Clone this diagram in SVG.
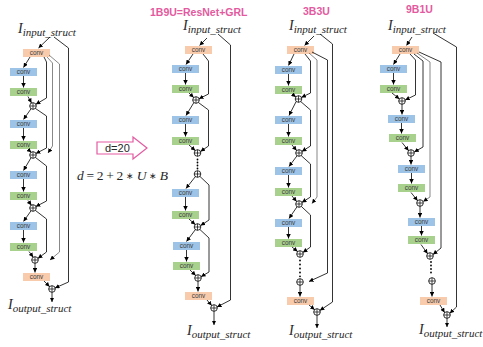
<svg xmlns="http://www.w3.org/2000/svg" width="483" height="347" viewBox="0 0 483 347">
  <style>
    .box text { font-family: "Liberation Sans", Arial, sans-serif; font-size: 6.4px; fill: #3a3a3a; text-anchor: middle; }
    .peach { fill: #F8CBAD; }
    .blue { fill: #9DC3E6; }
    .green { fill: #A9D18E; }
    .wire { fill: none; stroke: #000; stroke-width: 0.8; marker-end: url(#ah); }
    .wire.thin { stroke: #555; stroke-width: 0.7; }
    .dot { fill: #000; }
    .var { font-family: "Liberation Serif", "Times New Roman", serif; font-style: italic; fill: #262626; }
    .var .main { font-size: 14px; }
    .var .sub { font-size: 11px; }
    .title { font-family: "Liberation Sans", Arial, sans-serif; font-weight: bold; fill: #E35AA0; }
    .op { font-size: 9px; }
  </style>
  <defs>
    <marker id="ah" viewBox="0 0 10 10" refX="10" refY="5" markerWidth="4.5" markerHeight="4.5" markerUnits="userSpaceOnUse" orient="auto">
      <path d="M0,0 L10,5 L0,10 z" fill="#000"/>
    </marker>
    <!-- element-wise sum: circle with a cross -->
    <g id="sum-shape">
      <circle r="3.3" fill="#fff" stroke="#000" stroke-width="0.8"/>
      <path d="M-3.3,0H3.3M0,-3.3V3.3" fill="none" stroke="#000" stroke-width="0.7"/>
    </g>
  </defs>

  <!-- ===== generic structure (left) ===== -->
  <g id="c1-in" class="var"><text x="18" y="33"><tspan class="main">I</tspan><tspan class="sub" dy="3">input_struct</tspan></text></g>
  <g id="c1-conv0" class="box"><rect class="peach" x="23" y="49" width="27" height="8"/><text x="36.5" y="55.3">conv</text></g>
  <g id="c1-b1" class="box"><rect class="blue" x="10" y="68" width="27" height="8"/><text x="23.5" y="74.3">conv</text></g>
  <g id="c1-g1" class="box"><rect class="green" x="10" y="88" width="27" height="8"/><text x="23.5" y="94.3">conv</text></g>
  <g id="c1-s1" class="sum"><use href="#sum-shape" x="33" y="106"/></g>
  <g id="c1-b2" class="box"><rect class="blue" x="10" y="120" width="27" height="8"/><text x="23.5" y="126.3">conv</text></g>
  <g id="c1-g2" class="box"><rect class="green" x="10" y="141" width="27" height="8"/><text x="23.5" y="147.3">conv</text></g>
  <g id="c1-s2" class="sum"><use href="#sum-shape" x="33" y="155"/></g>
  <g id="c1-b3" class="box"><rect class="blue" x="10" y="171" width="27" height="8"/><text x="23.5" y="177.3">conv</text></g>
  <g id="c1-g3" class="box"><rect class="green" x="10" y="192" width="27" height="8"/><text x="23.5" y="198.3">conv</text></g>
  <g id="c1-s3" class="sum"><use href="#sum-shape" x="33" y="208"/></g>
  <g id="c1-b4" class="box"><rect class="blue" x="10" y="222" width="27" height="8"/><text x="23.5" y="228.3">conv</text></g>
  <g id="c1-g4" class="box"><rect class="green" x="10" y="243" width="27" height="8"/><text x="23.5" y="249.3">conv</text></g>
  <g id="c1-s4" class="sum"><use href="#sum-shape" x="35" y="260"/></g>
  <g id="c1-convL" class="box"><rect class="peach" x="23" y="273" width="27" height="8"/><text x="36.5" y="279.3">conv</text></g>
  <g id="c1-sf" class="sum"><use href="#sum-shape" x="52" y="289"/></g>
  <g id="c1-out" class="var"><text x="8" y="309"><tspan class="main">I</tspan><tspan class="sub" dy="3">output_struct</tspan></text></g>

  <!-- depth note -->
  <g id="depth-arrow">
    <polygon points="97,142 133,142 133,137 147,148 133,159 133,154 97,154" fill="#fff" stroke="#E35AA0" stroke-width="1.2" stroke-linejoin="miter"/>
    <text x="105" y="152" font-family="Liberation Sans, Arial, sans-serif" font-size="11" fill="#262626">d=20</text>
  </g>
  <g id="depth-formula">
    <text x="77" y="180" font-family="Liberation Serif, 'Times New Roman', serif" font-size="13.5" fill="#262626" textLength="91" lengthAdjust="spacing"><tspan font-style="italic">d</tspan> = 2 + 2 <tspan class="op" dy="-1">∗</tspan> <tspan font-style="italic" dy="1">U</tspan> <tspan class="op" dy="-1">∗</tspan> <tspan font-style="italic" dy="1">B</tspan></text>
  </g>

  <!-- ===== 1B9U ===== -->
  <g id="c2-title"><text class="title" x="150" y="16" font-size="10.5">1B9U=ResNet+GRL</text></g>
  <g id="c2-in" class="var"><text x="183" y="30"><tspan class="main">I</tspan><tspan class="sub" dy="3">input_struct</tspan></text></g>
  <g id="c2-conv0" class="box"><rect class="peach" x="185" y="46" width="27" height="8"/><text x="198.5" y="52.3">conv</text></g>
  <g id="c2-b1" class="box"><rect class="blue" x="172" y="65" width="27" height="8"/><text x="185.5" y="71.3">conv</text></g>
  <g id="c2-g1" class="box"><rect class="green" x="172" y="85" width="27" height="8"/><text x="185.5" y="91.3">conv</text></g>
  <g id="c2-s1" class="sum"><use href="#sum-shape" x="196" y="100"/></g>
  <g id="c2-b2" class="box"><rect class="blue" x="172" y="116" width="27" height="8"/><text x="185.5" y="122.3">conv</text></g>
  <g id="c2-g2" class="box"><rect class="green" x="172" y="137" width="27" height="8"/><text x="185.5" y="143.3">conv</text></g>
  <g id="c2-s2" class="sum"><use href="#sum-shape" x="197.5" y="153"/></g>
  <g id="c2-gap"><circle class="dot" cx="197.5" cy="159.5" r="0.9"/><circle class="dot" cx="197.5" cy="162.5" r="0.9"/><circle class="dot" cx="197.5" cy="165.5" r="0.9"/><circle class="dot" cx="197.5" cy="168.5" r="0.9"/></g>
  <g id="c2-s7" class="sum"><use href="#sum-shape" x="197.5" y="174"/></g>
  <g id="c2-b8" class="box"><rect class="blue" x="172" y="189" width="27" height="8"/><text x="185.5" y="195.3">conv</text></g>
  <g id="c2-g8" class="box"><rect class="green" x="172" y="211" width="27" height="8"/><text x="185.5" y="217.3">conv</text></g>
  <g id="c2-s8" class="sum"><use href="#sum-shape" x="197.5" y="227"/></g>
  <g id="c2-b9" class="box"><rect class="blue" x="173" y="242" width="27" height="8"/><text x="186.5" y="248.3">conv</text></g>
  <g id="c2-g9" class="box"><rect class="green" x="173" y="262" width="27" height="8"/><text x="186.5" y="268.3">conv</text></g>
  <g id="c2-s9" class="sum"><use href="#sum-shape" x="198" y="278"/></g>
  <g id="c2-convL" class="box"><rect class="peach" x="185" y="292" width="27" height="8"/><text x="198.5" y="298.3">conv</text></g>
  <g id="c2-sf" class="sum"><use href="#sum-shape" x="214" y="308"/></g>
  <g id="c2-out" class="var"><text x="187" y="335"><tspan class="main">I</tspan><tspan class="sub" dy="3">output_struct</tspan></text></g>

  <!-- ===== 3B3U ===== -->
  <g id="c3-title"><text class="title" x="303" y="15" font-size="10.5">3B3U</text></g>
  <g id="c3-in" class="var"><text x="289" y="30"><tspan class="main">I</tspan><tspan class="sub" dy="3">input_struct</tspan></text></g>
  <g id="c3-conv0" class="box"><rect class="peach" x="287" y="46" width="27" height="8"/><text x="300.5" y="52.3">conv</text></g>
  <g id="c3-b1" class="box"><rect class="blue" x="275" y="66" width="27" height="8"/><text x="288.5" y="72.3">conv</text></g>
  <g id="c3-g1" class="box"><rect class="green" x="275" y="86" width="27" height="8"/><text x="288.5" y="92.3">conv</text></g>
  <g id="c3-s1" class="sum"><use href="#sum-shape" x="298.5" y="99"/></g>
  <g id="c3-b2" class="box"><rect class="blue" x="275" y="116" width="27" height="8"/><text x="288.5" y="122.3">conv</text></g>
  <g id="c3-g2" class="box"><rect class="green" x="275" y="137" width="27" height="8"/><text x="288.5" y="143.3">conv</text></g>
  <g id="c3-s2" class="sum"><use href="#sum-shape" x="299" y="153"/></g>
  <g id="c3-b3" class="box"><rect class="blue" x="275" y="167" width="27" height="8"/><text x="288.5" y="173.3">conv</text></g>
  <g id="c3-g3" class="box"><rect class="green" x="275" y="188" width="27" height="8"/><text x="288.5" y="194.3">conv</text></g>
  <g id="c3-s3" class="sum"><use href="#sum-shape" x="299" y="204"/></g>
  <g id="c3-b4" class="box"><rect class="blue" x="275" y="219" width="27" height="8"/><text x="288.5" y="225.3">conv</text></g>
  <g id="c3-g4" class="box"><rect class="green" x="275" y="239" width="27" height="8"/><text x="288.5" y="245.3">conv</text></g>
  <g id="c3-s4" class="sum"><use href="#sum-shape" x="300" y="254"/></g>
  <g id="c3-gap"><circle class="dot" cx="300" cy="260.5" r="0.9"/><circle class="dot" cx="300" cy="264.5" r="0.9"/><circle class="dot" cx="300" cy="268.5" r="0.9"/><circle class="dot" cx="300" cy="272.5" r="0.9"/><circle class="dot" cx="300" cy="276.3" r="0.9"/></g>
  <g id="c3-s9" class="sum"><use href="#sum-shape" x="300" y="282"/></g>
  <g id="c3-convL" class="box"><rect class="peach" x="287" y="297" width="27" height="8"/><text x="300.5" y="303.3">conv</text></g>
  <g id="c3-sf" class="sum"><use href="#sum-shape" x="317" y="312"/></g>
  <g id="c3-out" class="var"><text x="289" y="335"><tspan class="main">I</tspan><tspan class="sub" dy="3">output_struct</tspan></text></g>

  <!-- ===== 9B1U ===== -->
  <g id="c4-title"><text class="title" x="406" y="13" font-size="10.5">9B1U</text></g>
  <g id="c4-in" class="var"><text x="388" y="30"><tspan class="main">I</tspan><tspan class="sub" dy="3">input_struct</tspan></text></g>
  <g id="c4-conv0" class="box"><rect class="peach" x="392" y="46" width="27" height="8"/><text x="405.5" y="52.3">conv</text></g>
  <g id="c4-b1" class="box"><rect class="blue" x="380" y="65" width="27" height="8"/><text x="393.5" y="71.3">conv</text></g>
  <g id="c4-g1" class="box"><rect class="green" x="380" y="85" width="27" height="8"/><text x="393.5" y="91.3">conv</text></g>
  <g id="c4-s1" class="sum"><use href="#sum-shape" x="402" y="101"/></g>
  <g id="c4-b2" class="box"><rect class="blue" x="388" y="115" width="27" height="8"/><text x="401.5" y="121.3">conv</text></g>
  <g id="c4-g2" class="box"><rect class="green" x="389" y="134" width="27" height="8"/><text x="402.5" y="140.3">conv</text></g>
  <g id="c4-s2" class="sum"><use href="#sum-shape" x="411" y="153"/></g>
  <g id="c4-b3" class="box"><rect class="blue" x="398" y="165" width="27" height="8"/><text x="411.5" y="171.3">conv</text></g>
  <g id="c4-g3" class="box"><rect class="green" x="398" y="184" width="27" height="8"/><text x="411.5" y="190.3">conv</text></g>
  <g id="c4-s3" class="sum"><use href="#sum-shape" x="420" y="203"/></g>
  <g id="c4-b4" class="box"><rect class="blue" x="408" y="218" width="27" height="8"/><text x="421.5" y="224.3">conv</text></g>
  <g id="c4-g4" class="box"><rect class="green" x="408" y="236" width="27" height="8"/><text x="421.5" y="242.3">conv</text></g>
  <g id="c4-s4" class="sum"><use href="#sum-shape" x="430" y="256"/></g>
  <g id="c4-gap"><circle class="dot" cx="431" cy="262" r="0.9"/><circle class="dot" cx="431" cy="265.5" r="0.9"/><circle class="dot" cx="431" cy="269" r="0.9"/><circle class="dot" cx="431" cy="272.5" r="0.9"/></g>
  <g id="c4-s9" class="sum"><use href="#sum-shape" x="432" y="281"/></g>
  <g id="c4-convL" class="box"><rect class="peach" x="420" y="297" width="27" height="8"/><text x="433.5" y="303.3">conv</text></g>
  <g id="c4-sf" class="sum"><use href="#sum-shape" x="447" y="315"/></g>
  <g id="c4-out" class="var"><text x="419" y="334"><tspan class="main">I</tspan><tspan class="sub" dy="3">output_struct</tspan></text></g>

  <!-- ===== connectors ===== -->
  <g id="connectors">
    <!-- generic -->
    <path class="wire" d="M50,37 L38.5,48"/>
    <path class="wire" d="M54,37 L68.5,48 V282 L55,288"/>
    <path class="wire" d="M30,57 L23.5,67.5"/>
    <path class="wire" d="M23.5,76 V87.5"/>
    <path class="wire" d="M28,96.5 L31.5,103"/>
    <path class="wire" d="M44,57 L46.5,62 V98 L35.8,104.3"/>
    <path class="wire" d="M31,108.8 L23.5,119.5"/>
    <path class="wire" d="M35.5,108.5 L46.5,116 V148 L35.9,153.5"/>
    <path class="wire thin" d="M47,57 L52.5,63 V146 L48,153"/>
    <path class="wire" d="M23.5,128 V140.5"/>
    <path class="wire" d="M28,149.5 L31.3,152.3"/>
    <path class="wire" d="M31,157.8 L23.5,170.5"/>
    <path class="wire" d="M35.5,157.5 L46.5,166 V201 L35.8,206.6"/>
    <path class="wire" d="M23.5,179 V191.5"/>
    <path class="wire" d="M28,200.5 L31.4,205.2"/>
    <path class="wire" d="M31,210.8 L23.5,221.5"/>
    <path class="wire" d="M35.5,210.5 L46.5,219 V252 L37.9,258.4"/>
    <path class="wire thin" d="M49,55 L59.5,64 V252 L50,260"/>
    <path class="wire" d="M23.5,230 V242.5"/>
    <path class="wire" d="M29,251.5 L33.2,257.2"/>
    <path class="wire" d="M35,263.3 V272.5"/>
    <path class="wire" d="M44,281 L49.6,286.7"/>
    <path class="wire" d="M52,292.3 V302"/>

    <!-- 1B9U -->
    <path class="wire" d="M207,38 L199.5,45.5"/>
    <path class="wire" d="M218,34 L230.5,45 V300 L217,307"/>
    <path class="wire" d="M193,54 L186,64.5"/>
    <path class="wire" d="M185.5,73 V84.5"/>
    <path class="wire" d="M189,93 L193.7,97.6"/>
    <path class="wire" d="M203,54 L208.5,61 V94 L199,98.8"/>
    <path class="wire" d="M193.8,102.7 L186,115.5"/>
    <path class="wire" d="M198.5,102.6 L208.5,110 V146 L200.5,151.5"/>
    <path class="wire" d="M185.5,124 V136.5"/>
    <path class="wire" d="M189,145 L195.2,150.6"/>
    <path class="wire" d="M195.3,176.7 L186,188.5"/>
    <path class="wire" d="M200,176.5 L209,185 V220 L200.6,225.6"/>
    <path class="wire" d="M185.5,197 V210.5"/>
    <path class="wire" d="M189,219 L195.2,224.6"/>
    <path class="wire" d="M195.3,229.7 L186.5,241.5"/>
    <path class="wire" d="M200,229.6 L209,238 V272 L201,276.7"/>
    <path class="wire" d="M186.5,250 V261.5"/>
    <path class="wire" d="M190,270 L195.7,275.6"/>
    <path class="wire" d="M198,281.3 V291.5"/>
    <path class="wire" d="M207,300 L211.7,305.6"/>
    <path class="wire" d="M214,311.3 V325"/>

    <!-- 3B3U -->
    <path class="wire" d="M314,36 L304.5,45.5"/>
    <path class="wire" d="M320,34 L332.5,44 V302 L319.8,310.5"/>
    <path class="wire" d="M294,54 L288.5,65.5"/>
    <path class="wire" d="M288.5,74 V85.5"/>
    <path class="wire" d="M292,94 L295.9,97"/>
    <path class="wire" d="M305,54 L310.5,61 V93 L301.4,97.4"/>
    <path class="wire thin" d="M309,53 L317,60 V197 L312,203.5"/>
    <path class="wire" d="M312,52 L327.5,60 V273 L309,281.5"/>
    <path class="wire" d="M296,101.8 L289,115.5"/>
    <path class="wire" d="M301,101.8 L310.5,110 V146 L301.9,151.4"/>
    <path class="wire" d="M288.5,124 V136.5"/>
    <path class="wire" d="M292,145 L296.6,150.6"/>
    <path class="wire" d="M297,155.8 L289,166.5"/>
    <path class="wire" d="M301.2,155.6 L310.5,164 V197 L301.9,202.4"/>
    <path class="wire" d="M288.5,175 V187.5"/>
    <path class="wire" d="M292,196 L296.6,201.6"/>
    <path class="wire" d="M297,206.8 L289,218.5"/>
    <path class="wire" d="M301.5,206.6 L310.5,215 V247 L302.9,252.4"/>
    <path class="wire" d="M288.5,227 V238.5"/>
    <path class="wire" d="M292,247 L297.6,251.6"/>
    <path class="wire" d="M300,285.3 V296.5"/>
    <path class="wire" d="M309,305 L314.6,309.7"/>
    <path class="wire" d="M317,315.3 V328"/>

    <!-- 9B1U -->
    <path class="wire" d="M412,37 L406.5,45.5"/>
    <path class="wire" d="M433,33 L456.5,47 V307 L449.8,313.3"/>
    <path class="wire" d="M400,54 L393.5,64.5"/>
    <path class="wire" d="M393.5,73 V84.5"/>
    <path class="wire" d="M392,93 L399.4,99"/>
    <path class="wire" d="M410,54 L415.5,60 V95 L405.2,100"/>
    <path class="wire" d="M414,54 L423,61 V147 L414.2,152"/>
    <path class="wire thin" d="M417,53 L430,62 V197 L423.2,201.6"/>
    <path class="wire" d="M419,52 L441,62 V248 L433,254.5"/>
    <path class="wire" d="M402,104.3 V114.5"/>
    <path class="wire" d="M401.5,123 V133.5"/>
    <path class="wire" d="M402,142.5 L408.6,150.7"/>
    <path class="wire" d="M411,156.3 V164.5"/>
    <path class="wire" d="M411.5,173 V183.5"/>
    <path class="wire" d="M411,192.5 L417.6,200.7"/>
    <path class="wire" d="M420,206.3 V217.5"/>
    <path class="wire" d="M421.5,226 V235.5"/>
    <path class="wire" d="M421,244.5 L427.6,253.7"/>
    <path class="wire" d="M432,284.3 V296.5"/>
    <path class="wire" d="M440,305 L444.6,312.6"/>
    <path class="wire" d="M447,318.3 V327"/>
  </g>
</svg>
